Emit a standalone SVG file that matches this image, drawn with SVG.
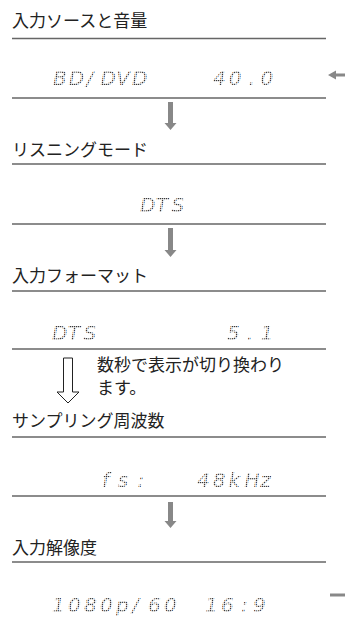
<svg xmlns="http://www.w3.org/2000/svg" width="345" height="618" viewBox="0 0 345 618">
<defs>
<pattern id="dots" width="2" height="2" patternUnits="userSpaceOnUse">
<rect width="1.3" height="1.3" fill="#3a3a3a"/>
</pattern>
</defs>
<style>
.t{font-family:"Noto Sans CJK JP","Noto Sans",sans-serif;font-size:17px;fill:#222}
.lcd{font-family:"DejaVu Sans","Liberation Sans",sans-serif;font-size:20px;font-style:italic;fill:url(#dots)}
.rule{stroke:#666;stroke-width:1.3}
.ga{fill:#888}
</style>
<g id="n1">
<text class="t" x="12" y="27">入力ソースと音量</text>
<line class="rule" x1="12" y1="38.5" x2="326" y2="38.5"/>
<text class="lcd" x="53 68.8 86.6 100.4 116.2 132" y="85">BD/DVD</text>
<text class="lcd" x="213 228.8 248.6 260.4" y="85">40.0</text>
<line class="rule" x1="12" y1="98" x2="326" y2="98"/>
</g>
<g id="n2">
<text class="t" x="12" y="156">リスニングモード</text>
<line class="rule" x1="12" y1="164" x2="326" y2="164"/>
<text class="lcd" x="140 155.8 171.6" y="212">DTS</text>
<line class="rule" x1="12" y1="224" x2="326" y2="224"/>
</g>
<g id="n3">
<text class="t" x="12" y="282">入力フォーマット</text>
<line class="rule" x1="12" y1="291" x2="326" y2="291"/>
<text class="lcd" x="52 67.8 83.6" y="340">DTS</text>
<text class="lcd" x="227 246.8 260.6" y="340">5.1</text>
<line class="rule" x1="12" y1="349" x2="326" y2="349"/>
</g>
<g id="note">
<text class="t" x="97" y="371">数秒で表示が切り換わり</text>
<text class="t" x="97" y="394">ます。</text>
</g>
<g id="n4">
<text class="t" x="12" y="427">サンプリング周波数</text>
<line class="rule" x1="12" y1="437" x2="326" y2="437"/>
<text class="lcd" x="102 117.8 137.6" y="487">fs:</text>
<text class="lcd" x="197 212.8 228.6 244.4 260.2" y="487">48kHz</text>
<line class="rule" x1="12" y1="496" x2="326" y2="496"/>
</g>
<g id="n5">
<text class="t" x="12" y="554">入力解像度</text>
<line class="rule" x1="12" y1="562" x2="326" y2="562"/>
<text class="lcd" x="52 68 84 100 116 132 148 164" y="612">1080p/60</text>
<text class="lcd" x="205 221 241 253" y="612">16:9</text>
</g>
<g id="connectors">
<path class="ga" d="M168 102 H173 V123 H176.5 L170.5 130 L164.5 123 H168 Z"/>
<path class="ga" d="M168 228 H173 V250 H176.5 L170.5 257 L164.5 250 H168 Z"/>
<path class="ga" d="M168 502 H173 V521 H176.5 L170.5 528 L164.5 521 H168 Z"/>
<path d="M63.5 358 H72.5 V392 H79 L68 403 L57 392 H63.5 Z" fill="#fff" stroke="#222" stroke-width="1"/>
<path class="ga" d="M328 75 L336 70.5 V73.5 H345 V76.5 H336 V79.5 Z"/>
<line x1="330" y1="595" x2="345" y2="595" stroke="#888" stroke-width="3"/>
</g>
</svg>
